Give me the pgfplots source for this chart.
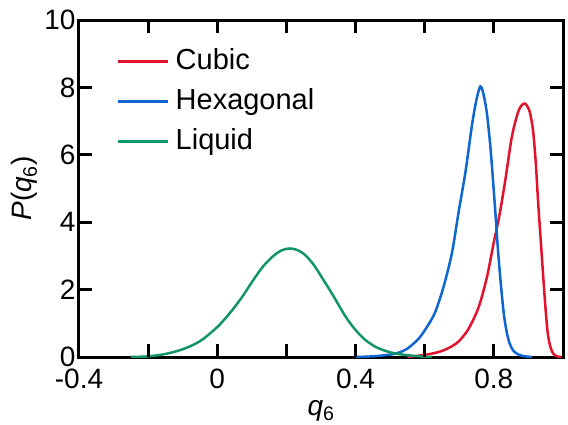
\documentclass[border=0pt]{standalone}
\usepackage{fontspec}
\setmainfont{Liberation Sans}
\usepackage{pgfplots}
\pgfplotsset{compat=1.18}
\definecolor{cubic}{RGB}{227,18,44}
\definecolor{hexa}{RGB}{14,102,208}
\definecolor{liq}{RGB}{18,150,102}
\begin{document}
\begin{tikzpicture}
\useasboundingbox (-79pt,-67pt) rectangle (489pt,357pt);
\begin{axis}[
    at={(0pt,0pt)}, anchor=south west,
    scale only axis,
    width=484pt, height=337pt,
    xmin=-0.4, xmax=1.0, ymin=0, ymax=10,
    xtick={-0.4,-0.2,0,0.2,0.4,0.6,0.8,1.0},
    xticklabels={-0.4,,0,,0.4,,0.8,},
    ytick={0,2,4,6,8,10},
    tick align=inside,
    major tick length=12pt,
    tick style={black, line width=3pt},
    axis line style={line width=3pt},
    /pgf/number format/assume math mode=true,
    tick label style={font=\fontsize{28}{30}\selectfont},
    xticklabel style={yshift=-8pt},
    label style={font=\fontsize{28}{30}\selectfont},
    xlabel={\textit{q}\textsubscript{6}},
    xlabel style={yshift=-5pt},
    ylabel={\textit{P}(\textit{q}\textsubscript{6})},
    legend cell align=left,
    legend style={draw=none, fill=none, at={(0.0723,0.923)}, anchor=north west,
        font=\fontsize{29}{31}\selectfont,
        nodes={text height=21pt, text depth=6pt, inner sep=0pt},
        row sep=13pt, column sep=6pt},
    legend image code/.code={\draw[#1, line width=2.5pt] (0pt,0pt) -- (50pt,0pt);},
]
\addplot[cubic, line width=2.5pt, smooth] coordinates {
(0.55,0) (0.583,0.04) (0.62,0.1) (0.65,0.18) (0.679,0.32) (0.70,0.48)
(0.727,0.84) (0.756,1.48) (0.780,2.37) (0.799,3.36) (0.816,4.2) (0.833,5.24)
(0.852,6.53) (0.872,7.32) (0.889,7.52) (0.903,7.3) (0.913,6.75) (0.921,5.8)
(0.928,4.6) (0.935,3.55) (0.942,2.5) (0.949,1.5) (0.956,0.70) (0.964,0.28)
(0.972,0.10) (0.982,0.02) (0.995,0)
};
\addlegendentry{Cubic}
\addplot[hexa, line width=2.5pt, smooth] coordinates {
(0.40,0) (0.45,0.02) (0.50,0.07) (0.525,0.13) (0.55,0.25) (0.583,0.55)
(0.61,0.95) (0.631,1.35) (0.655,2.1) (0.679,3.1) (0.698,4.3) (0.718,5.5)
(0.737,6.9) (0.75,7.65) (0.761,8.03) (0.770,7.8) (0.780,7.22) (0.790,6.23)
(0.799,5.04) (0.805,4.2) (0.811,3.3) (0.819,2.3) (0.828,1.35) (0.836,0.8)
(0.845,0.42) (0.857,0.18) (0.872,0.07) (0.89,0.02) (0.91,0)
};
\addlegendentry{Hexagonal}
\addplot[liq, line width=2.5pt, smooth] coordinates {
(-0.25,0) (-0.20,0.02) (-0.15,0.09) (-0.10,0.23) (-0.05,0.47) (0.00,0.89)
(0.04,1.35) (0.073,1.80) (0.10,2.22) (0.131,2.67) (0.16,2.98) (0.185,3.16)
(0.208,3.22) (0.23,3.18) (0.255,3.02) (0.28,2.72) (0.305,2.32) (0.333,1.86)
(0.371,1.20) (0.40,0.80) (0.429,0.50) (0.46,0.29) (0.496,0.15) (0.53,0.08)
(0.583,0.02) (0.62,0)
};
\addlegendentry{Liquid}
\end{axis}
% tick marks (inward, all four sides), axis box is 484pt x 337pt at the origin
\foreach \x in {69.14,138.29,207.43,276.57,345.71,414.86} {
    \fill[black] ({\x pt-1.5pt},0pt) rectangle ({\x pt+1.5pt},13.5pt);
    \fill[black] ({\x pt-1.5pt},337pt) rectangle ({\x pt+1.5pt},323.5pt);
}
\foreach \y in {67.4,134.8,202.2,269.6} {
    \fill[black] (0pt,{\y pt-1.5pt}) rectangle (13.5pt,{\y pt+1.5pt});
    \fill[black] (484pt,{\y pt-1.5pt}) rectangle (470.5pt,{\y pt+1.5pt});
}
\end{tikzpicture}
\end{document}
